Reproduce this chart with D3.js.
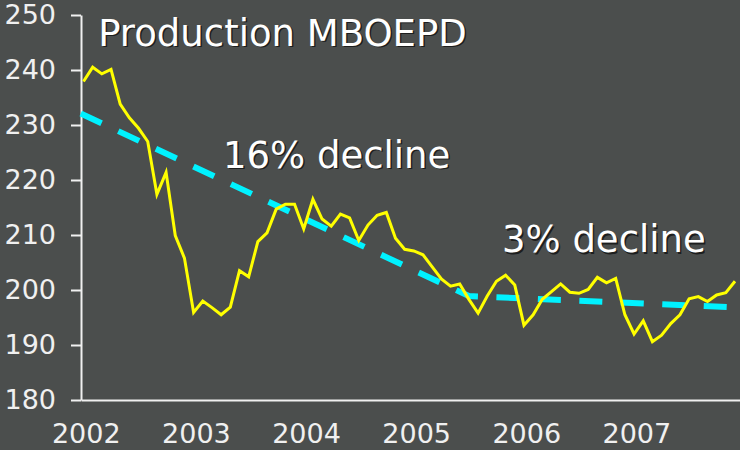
<!DOCTYPE html>
<html>
<head>
<meta charset="utf-8">
<script src="https://cdn.jsdelivr.net/npm/d3@7"></script>
<style>
  html, body { margin: 0; padding: 0; background: #4b4e4d; }
  svg { display: block; font-family: "DejaVu Sans", Verdana, sans-serif; }
</style>
</head>
<body>
<svg></svg>
<script>
// monthly production, Jan 2002 .. Dec 2007 (MBOEPD)
let production = [
  237.9, 240.5, 239.3, 240.1, 233.8, 231.3, 229.4, 227.0, 217.4, 221.4, 209.9, 205.8,
  195.9, 198.0, 196.8, 195.5, 196.9, 203.5, 202.4, 208.8, 210.4, 214.7, 215.6, 215.6,
  211.1, 216.5, 212.9, 211.6, 213.8, 213.1, 209.0, 211.8, 213.6, 214.1, 209.4, 207.4,
  207.1, 206.4, 204.2, 202.0, 200.7, 201.1, 198.3, 195.8, 198.9, 201.6, 202.7, 200.9,
  193.6, 195.5, 198.3, 199.7, 201.1, 199.6, 199.4, 200.1, 202.3, 201.3, 202.1, 195.5,
  192.0, 194.4, 190.6, 191.8, 193.9, 195.5, 198.4, 198.8, 197.9, 199.1, 199.5, 201.6,
];

// trend line breakpoints (month index, value)
let trendIdx = [-0.3, 42, 71.5];
let trendVal = [232.1, 198.9, 196.8];

let years = ["2002", "2003", "2004", "2005", "2006", "2007"];
let yTicks = [180, 190, 200, 210, 220, 230, 240, 250];

let labels = [
  { text: "Production MBOEPD", idx: 1.6, val: 244.4 },
  { text: "16% decline", idx: 15.2, val: 222.2 },
  { text: "3% decline", idx: 45.6, val: 206.9 },
];

let W = 740, H = 450;
let svg = d3.select("svg").attr("width", W).attr("height", H);

svg.append("rect").attr("width", W).attr("height", H).attr("fill", "#4b4e4d");

let x = d3.scaleLinear().domain([0, production.length - 1]).range([83.5, 735]);
let y = d3.scaleLinear().domain([180, 250]).range([400, 15]);

// axis scale spans the full plot frame
let xFrame = x.copy().domain([x.invert(81), x.invert(740)]).range([81, 740]);

let xAxis = svg
  .append("g")
  .attr("transform", `translate(0,${y(180)})`)
  .call(
    d3.axisBottom(xFrame)
      .tickValues(years.map((_, i) => i * 12 + 0.25))
      .tickFormat((d) => years[Math.floor(d / 12)])
      .tickSize(0)
      .tickPadding(24)
  );

let yAxis = svg
  .append("g")
  .attr("transform", `translate(81,0)`)
  .call(d3.axisLeft(y).tickValues(yTicks).tickSize(10).tickSizeOuter(0).tickPadding(15));

[xAxis, yAxis].forEach((g) => {
  g.selectAll("path, line").attr("stroke", "#f0f0f0").attr("stroke-width", 2);
  g.selectAll("text")
    .attr("fill", "#f0f0f0")
    .style("font-size", "27px")
    .style("font-family", '"DejaVu Sans", Verdana, sans-serif');
});

// trend
let trendLine = d3.line().x((d) => x(d[0])).y((d) => y(d[1]));
svg
  .append("path")
  .datum(trendIdx.map((d, i) => [d, trendVal[i]]))
  .attr("d", trendLine)
  .attr("fill", "none")
  .attr("stroke", "#00f2ff")
  .attr("stroke-width", 6)
  .attr("stroke-dasharray", "23,18.5");

// production line
let line = d3.line().x((_, i) => x(i)).y((d) => y(d));
svg
  .append("path")
  .datum(production)
  .attr("d", line)
  .attr("fill", "none")
  .attr("stroke", "#ffff00")
  .attr("stroke-width", 3)
  .attr("stroke-linejoin", "miter");

// labels with a small drop shadow
let lab = svg.selectAll("g.lab").data(labels).join("g").attr("class", "lab");
lab
  .append("text")
  .attr("x", (d) => x(d.idx) + 1.5)
  .attr("y", (d) => y(d.val) + 1.5)
  .attr("fill", "#111")
  .attr("fill-opacity", 0.8)
  .style("font-size", "37px")
  .text((d) => d.text);
lab
  .append("text")
  .attr("x", (d) => x(d.idx))
  .attr("y", (d) => y(d.val))
  .attr("fill", "#ffffff")
  .style("font-size", "37px")
  .text((d) => d.text);
</script>
</body>
</html>
